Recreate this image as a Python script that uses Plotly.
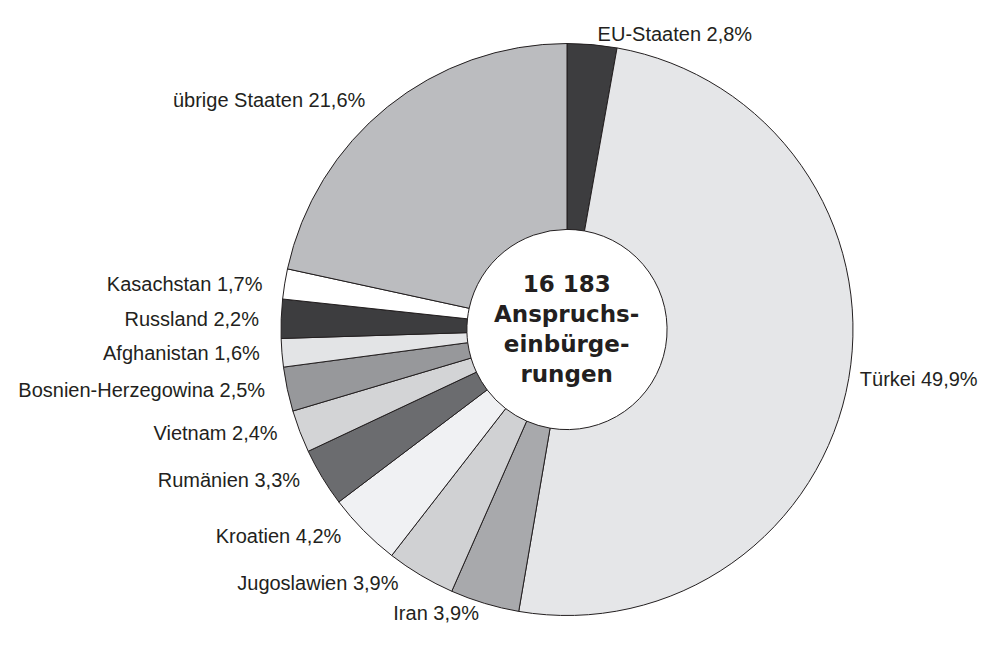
import plotly.graph_objects as go

labels = ["EU-Staaten", "Türkei", "Iran", "Jugoslawien", "Kroatien", "Rumänien",
          "Vietnam", "Bosnien-Herzegowina", "Afghanistan", "Russland", "Kasachstan",
          "übrige Staaten"]
values = [2.8, 49.9, 3.9, 3.9, 4.2, 3.3, 2.4, 2.5, 1.6, 2.2, 1.7, 21.6]
colors = ["#3d3d3f", "#e5e6e8", "#a8a9ac", "#d0d1d3", "#f0f1f3", "#6b6c6f",
          "#d3d4d6", "#97989b", "#e3e4e6", "#3d3d3f", "#ffffff", "#bbbcbf"]
total = "16 183"
center_lines = [total, "Anspruchs-", "einbürge-", "rungen"]

NB = "\u00a0"
sides = ["top", "right", "bottom", "left", "left", "left", "left", "left", "left", "left", "left", "left"]
texts = []
for l, v, s in zip(labels, values, sides):
    t = f"{l} {str(v).replace('.', ',')}%"
    if s == "right":
        t = NB + t
    elif s == "left":
        t = t + NB * 3
    texts.append(t)

fig = go.Figure(go.Pie(
    labels=labels,
    values=values,
    text=texts,
    textinfo="text",
    textposition="outside",
    sort=False,
    direction="clockwise",
    rotation=0,
    hole=0.35,
    marker=dict(colors=colors, line=dict(color="#231f20", width=1)),
    outsidetextfont=dict(family="Liberation Sans, Arial, sans-serif", size=20, color="#231f20"),
    domain=dict(x=[0.2752, 0.8518], y=[0.0625, 0.9452]),
    showlegend=False,
))

fig.add_annotation(
    x=0.5635, y=0.5039, xref="paper", yref="paper",
    text="<br>".join(center_lines), showarrow=False,
    font=dict(family="DejaVu Sans, sans-serif", size=23, color="#231f20", weight="bold"),
    align="center",
)

fig.update_layout(
    width=992, height=648,
    margin=dict(l=0, r=0, t=0, b=0),
    paper_bgcolor="white", plot_bgcolor="white",
)

fig.write_html("out.html")
